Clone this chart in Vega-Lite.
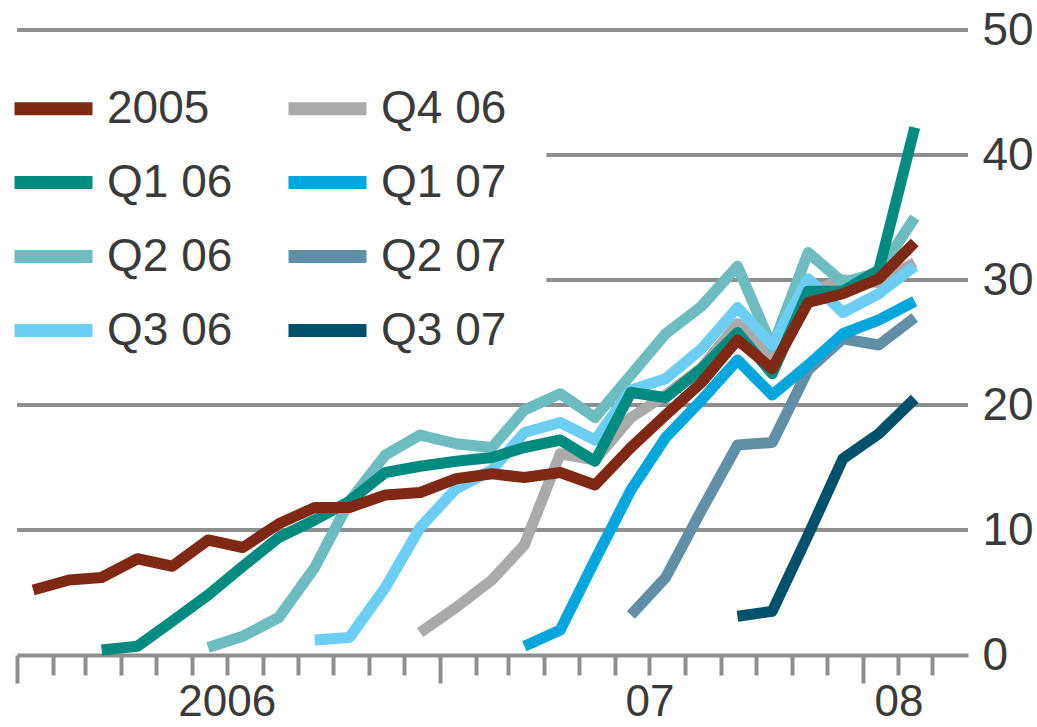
{
  "$schema": "https://vega.github.io/schema/vega-lite/v6.json",
  "width": 951,
  "height": 625,
  "autosize": "none",
  "padding": {"left": 17, "top": 30, "right": 69, "bottom": 72},
  "background": "white",
  "config": {
    "view": {"stroke": null},
    "font": "Liberation Sans, sans-serif"
  },
  "datasets": {
    "grid": [
      {"level": 10, "from": "2006-01-01", "to": "2008-04-01"},
      {"level": 20, "from": "2006-01-01", "to": "2008-04-01"},
      {"level": 30, "from": "2007-04-03", "to": "2008-04-01"},
      {"level": 40, "from": "2007-04-03", "to": "2008-04-01"},
      {"level": 50, "from": "2006-01-01", "to": "2008-04-01"}
    ],
    "rates": [
      {"series": "Q3 07", "date": "2007-09-15", "value": 3.1},
      {"series": "Q3 07", "date": "2007-10-15", "value": 3.5},
      {"series": "Q3 07", "date": "2007-11-15", "value": 9.6},
      {"series": "Q3 07", "date": "2007-12-15", "value": 15.7},
      {"series": "Q3 07", "date": "2008-01-15", "value": 17.7},
      {"series": "Q3 07", "date": "2008-02-15", "value": 20.5},

      {"series": "Q2 07", "date": "2007-06-15", "value": 3.2},
      {"series": "Q2 07", "date": "2007-07-15", "value": 6.2},
      {"series": "Q2 07", "date": "2007-08-15", "value": 11.6},
      {"series": "Q2 07", "date": "2007-09-15", "value": 16.8},
      {"series": "Q2 07", "date": "2007-10-15", "value": 17.0},
      {"series": "Q2 07", "date": "2007-11-15", "value": 22.8},
      {"series": "Q2 07", "date": "2007-12-15", "value": 25.3},
      {"series": "Q2 07", "date": "2008-01-15", "value": 24.8},
      {"series": "Q2 07", "date": "2008-02-15", "value": 27.0},

      {"series": "Q1 07", "date": "2007-03-15", "value": 0.7},
      {"series": "Q1 07", "date": "2007-04-15", "value": 2.0},
      {"series": "Q1 07", "date": "2007-05-15", "value": 7.6},
      {"series": "Q1 07", "date": "2007-06-15", "value": 13.2},
      {"series": "Q1 07", "date": "2007-07-15", "value": 17.4},
      {"series": "Q1 07", "date": "2007-08-15", "value": 20.4},
      {"series": "Q1 07", "date": "2007-09-15", "value": 23.6},
      {"series": "Q1 07", "date": "2007-10-15", "value": 20.8},
      {"series": "Q1 07", "date": "2007-11-15", "value": 23.2},
      {"series": "Q1 07", "date": "2007-12-15", "value": 25.7},
      {"series": "Q1 07", "date": "2008-01-15", "value": 26.8},
      {"series": "Q1 07", "date": "2008-02-15", "value": 28.3},

      {"series": "Q4 06", "date": "2006-12-15", "value": 1.8},
      {"series": "Q4 06", "date": "2007-01-15", "value": 3.8},
      {"series": "Q4 06", "date": "2007-02-15", "value": 6.0},
      {"series": "Q4 06", "date": "2007-03-15", "value": 8.8},
      {"series": "Q4 06", "date": "2007-04-15", "value": 16.1},
      {"series": "Q4 06", "date": "2007-05-15", "value": 15.6},
      {"series": "Q4 06", "date": "2007-06-15", "value": 19.0},
      {"series": "Q4 06", "date": "2007-07-15", "value": 20.8},
      {"series": "Q4 06", "date": "2007-08-15", "value": 23.0},
      {"series": "Q4 06", "date": "2007-09-15", "value": 26.5},
      {"series": "Q4 06", "date": "2007-10-15", "value": 24.0},
      {"series": "Q4 06", "date": "2007-11-15", "value": 29.0},
      {"series": "Q4 06", "date": "2007-12-15", "value": 30.0},
      {"series": "Q4 06", "date": "2008-01-15", "value": 29.8},
      {"series": "Q4 06", "date": "2008-02-15", "value": 31.4},

      {"series": "Q2 06", "date": "2006-06-15", "value": 0.6},
      {"series": "Q2 06", "date": "2006-07-15", "value": 1.5},
      {"series": "Q2 06", "date": "2006-08-15", "value": 3.0},
      {"series": "Q2 06", "date": "2006-09-15", "value": 7.0},
      {"series": "Q2 06", "date": "2006-10-15", "value": 12.3},
      {"series": "Q2 06", "date": "2006-11-15", "value": 16.0},
      {"series": "Q2 06", "date": "2006-12-15", "value": 17.6},
      {"series": "Q2 06", "date": "2007-01-15", "value": 16.9},
      {"series": "Q2 06", "date": "2007-02-15", "value": 16.6},
      {"series": "Q2 06", "date": "2007-03-15", "value": 19.6},
      {"series": "Q2 06", "date": "2007-04-15", "value": 20.9},
      {"series": "Q2 06", "date": "2007-05-15", "value": 19.0},
      {"series": "Q2 06", "date": "2007-06-15", "value": 22.4},
      {"series": "Q2 06", "date": "2007-07-15", "value": 25.7},
      {"series": "Q2 06", "date": "2007-08-15", "value": 27.9},
      {"series": "Q2 06", "date": "2007-09-15", "value": 31.1},
      {"series": "Q2 06", "date": "2007-10-15", "value": 24.6},
      {"series": "Q2 06", "date": "2007-11-15", "value": 32.2},
      {"series": "Q2 06", "date": "2007-12-15", "value": 29.8},
      {"series": "Q2 06", "date": "2008-01-15", "value": 30.6},
      {"series": "Q2 06", "date": "2008-02-15", "value": 35.0},

      {"series": "Q3 06", "date": "2006-09-15", "value": 1.2},
      {"series": "Q3 06", "date": "2006-10-15", "value": 1.4},
      {"series": "Q3 06", "date": "2006-11-15", "value": 5.4},
      {"series": "Q3 06", "date": "2006-12-15", "value": 10.2},
      {"series": "Q3 06", "date": "2007-01-15", "value": 13.3},
      {"series": "Q3 06", "date": "2007-02-15", "value": 14.8},
      {"series": "Q3 06", "date": "2007-03-15", "value": 17.8},
      {"series": "Q3 06", "date": "2007-04-15", "value": 18.6},
      {"series": "Q3 06", "date": "2007-05-15", "value": 17.2},
      {"series": "Q3 06", "date": "2007-06-15", "value": 21.2},
      {"series": "Q3 06", "date": "2007-07-15", "value": 22.1},
      {"series": "Q3 06", "date": "2007-08-15", "value": 24.5},
      {"series": "Q3 06", "date": "2007-09-15", "value": 27.8},
      {"series": "Q3 06", "date": "2007-10-15", "value": 24.8},
      {"series": "Q3 06", "date": "2007-11-15", "value": 30.1},
      {"series": "Q3 06", "date": "2007-12-15", "value": 27.4},
      {"series": "Q3 06", "date": "2008-01-15", "value": 28.9},
      {"series": "Q3 06", "date": "2008-02-15", "value": 31.1},

      {"series": "Q1 06", "date": "2006-03-15", "value": 0.4},
      {"series": "Q1 06", "date": "2006-04-15", "value": 0.7},
      {"series": "Q1 06", "date": "2006-05-15", "value": 2.7},
      {"series": "Q1 06", "date": "2006-06-15", "value": 4.8},
      {"series": "Q1 06", "date": "2006-07-15", "value": 7.1},
      {"series": "Q1 06", "date": "2006-08-15", "value": 9.4},
      {"series": "Q1 06", "date": "2006-09-15", "value": 10.8},
      {"series": "Q1 06", "date": "2006-10-15", "value": 12.3},
      {"series": "Q1 06", "date": "2006-11-15", "value": 14.6},
      {"series": "Q1 06", "date": "2006-12-15", "value": 15.1},
      {"series": "Q1 06", "date": "2007-01-15", "value": 15.5},
      {"series": "Q1 06", "date": "2007-02-15", "value": 15.8},
      {"series": "Q1 06", "date": "2007-03-15", "value": 16.6},
      {"series": "Q1 06", "date": "2007-04-15", "value": 17.2},
      {"series": "Q1 06", "date": "2007-05-15", "value": 15.5},
      {"series": "Q1 06", "date": "2007-06-15", "value": 21.0},
      {"series": "Q1 06", "date": "2007-07-15", "value": 20.6},
      {"series": "Q1 06", "date": "2007-08-15", "value": 22.9},
      {"series": "Q1 06", "date": "2007-09-15", "value": 25.8},
      {"series": "Q1 06", "date": "2007-10-15", "value": 22.5},
      {"series": "Q1 06", "date": "2007-11-15", "value": 29.1},
      {"series": "Q1 06", "date": "2007-12-15", "value": 29.1},
      {"series": "Q1 06", "date": "2008-01-15", "value": 30.8},
      {"series": "Q1 06", "date": "2008-02-15", "value": 42.2},

      {"series": "2005", "date": "2006-01-15", "value": 5.2},
      {"series": "2005", "date": "2006-02-15", "value": 6.0},
      {"series": "2005", "date": "2006-03-15", "value": 6.2},
      {"series": "2005", "date": "2006-04-15", "value": 7.7},
      {"series": "2005", "date": "2006-05-15", "value": 7.1},
      {"series": "2005", "date": "2006-06-15", "value": 9.2},
      {"series": "2005", "date": "2006-07-15", "value": 8.6},
      {"series": "2005", "date": "2006-08-15", "value": 10.5},
      {"series": "2005", "date": "2006-09-15", "value": 11.8},
      {"series": "2005", "date": "2006-10-15", "value": 11.8},
      {"series": "2005", "date": "2006-11-15", "value": 12.8},
      {"series": "2005", "date": "2006-12-15", "value": 13.0},
      {"series": "2005", "date": "2007-01-15", "value": 14.1},
      {"series": "2005", "date": "2007-02-15", "value": 14.5},
      {"series": "2005", "date": "2007-03-15", "value": 14.2},
      {"series": "2005", "date": "2007-04-15", "value": 14.6},
      {"series": "2005", "date": "2007-05-15", "value": 13.6},
      {"series": "2005", "date": "2007-06-15", "value": 16.6},
      {"series": "2005", "date": "2007-07-15", "value": 19.2},
      {"series": "2005", "date": "2007-08-15", "value": 21.8},
      {"series": "2005", "date": "2007-09-15", "value": 25.2},
      {"series": "2005", "date": "2007-10-15", "value": 22.9},
      {"series": "2005", "date": "2007-11-15", "value": 28.2},
      {"series": "2005", "date": "2007-12-15", "value": 28.9},
      {"series": "2005", "date": "2008-01-15", "value": 30.1},
      {"series": "2005", "date": "2008-02-15", "value": 33.0}
    ]
  },
  "encoding": {
    "x": {
      "type": "temporal", "title": null,
      "scale": {"type": "utc", "domain": [{"year": 2006, "month": 1, "date": 1, "utc": true}, {"year": 2008, "month": 4, "date": 1, "utc": true}]},
      "axis": {
        "orient": "bottom",
        "values": [
          {"year": 2006, "month": 1, "date": 1, "utc": true}, {"year": 2006, "month": 2, "date": 1, "utc": true},
          {"year": 2006, "month": 3, "date": 1, "utc": true}, {"year": 2006, "month": 4, "date": 1, "utc": true},
          {"year": 2006, "month": 5, "date": 1, "utc": true}, {"year": 2006, "month": 6, "date": 1, "utc": true},
          {"year": 2006, "month": 7, "date": 1, "utc": true}, {"year": 2006, "month": 8, "date": 1, "utc": true},
          {"year": 2006, "month": 9, "date": 1, "utc": true}, {"year": 2006, "month": 10, "date": 1, "utc": true},
          {"year": 2006, "month": 11, "date": 1, "utc": true}, {"year": 2006, "month": 12, "date": 1, "utc": true},
          {"year": 2007, "month": 1, "date": 1, "utc": true}, {"year": 2007, "month": 2, "date": 1, "utc": true},
          {"year": 2007, "month": 3, "date": 1, "utc": true}, {"year": 2007, "month": 4, "date": 1, "utc": true},
          {"year": 2007, "month": 5, "date": 1, "utc": true}, {"year": 2007, "month": 6, "date": 1, "utc": true},
          {"year": 2007, "month": 7, "date": 1, "utc": true}, {"year": 2007, "month": 8, "date": 1, "utc": true},
          {"year": 2007, "month": 9, "date": 1, "utc": true}, {"year": 2007, "month": 10, "date": 1, "utc": true},
          {"year": 2007, "month": 11, "date": 1, "utc": true}, {"year": 2007, "month": 12, "date": 1, "utc": true},
          {"year": 2008, "month": 1, "date": 1, "utc": true}, {"year": 2008, "month": 2, "date": 1, "utc": true},
          {"year": 2008, "month": 3, "date": 1, "utc": true}
        ],
        "labelExpr": "utcmonth(datum.value) == 6 ? (utcyear(datum.value) == 2006 ? '2006' : '07') : ((utcyear(datum.value) == 2008 && utcmonth(datum.value) == 1) ? '08' : '')",
        "labelOverlap": false,
        "labelFlush": false,
        "labelAlign": "center",
        "labelBaseline": "top",
        "labelFontSize": 44,
        "labelColor": "#3a3a3a",
        "labelPadding": 5,
        "grid": false,
        "domain": true,
        "domainColor": "#8e8e8e",
        "domainWidth": 4,
        "ticks": true,
        "tickColor": "#8e8e8e",
        "tickWidth": 4,
        "tickSize": {"condition": {"test": "utcmonth(datum.value) == 0", "value": 28}, "value": 20}
      }
    },
    "y": {
      "type": "quantitative", "title": null,
      "scale": {"domain": [0, 50], "nice": false, "zero": true},
      "axis": {
        "orient": "right",
        "values": [0, 10, 20, 30, 40, 50],
        "grid": false,
        "domain": false,
        "ticks": false,
        "labelFontSize": 46,
        "labelColor": "#3a3a3a",
        "labelPadding": 14,
        "labelAlign": "left",
        "labelBaseline": "middle"
      }
    }
  },
  "layer": [
    {
      "data": {"name": "grid"},
      "mark": {"type": "rule", "stroke": "#8e8e8e", "strokeWidth": 4},
      "encoding": {
        "x": {"field": "from"},
        "x2": {"field": "to"},
        "y": {"field": "level"}
      }
    },
    {
      "data": {"name": "rates"},
      "mark": {"type": "line", "strokeWidth": 11, "strokeCap": "butt", "strokeJoin": "round"},
      "encoding": {
        "x": {"field": "date"},
        "y": {"field": "value"},
        "color": {
          "field": "series", "type": "nominal",
          "scale": {
            "domain": ["2005", "Q1 06", "Q2 06", "Q3 06", "Q4 06", "Q1 07", "Q2 07", "Q3 07"],
            "range": ["#7f2813", "#008b80", "#6dbcbf", "#6ccef3", "#aaaaaa", "#04a6de", "#6190a6", "#02516c"]
          },
          "legend": {
            "orient": "none",
            "legendX": -9,
            "legendY": 33,
            "columns": 2,
            "title": null,
            "padding": 0,
            "symbolType": "stroke",
            "symbolStrokeWidth": 13,
            "symbolSize": 6084,
            "labelFontSize": 46,
            "labelColor": "#3a3a3a",
            "labelOffset": 8,
            "rowPadding": 2,
            "columnPadding": 29,
            "gridAlign": "all"
          }
        }
      }
    }
  ]
}
